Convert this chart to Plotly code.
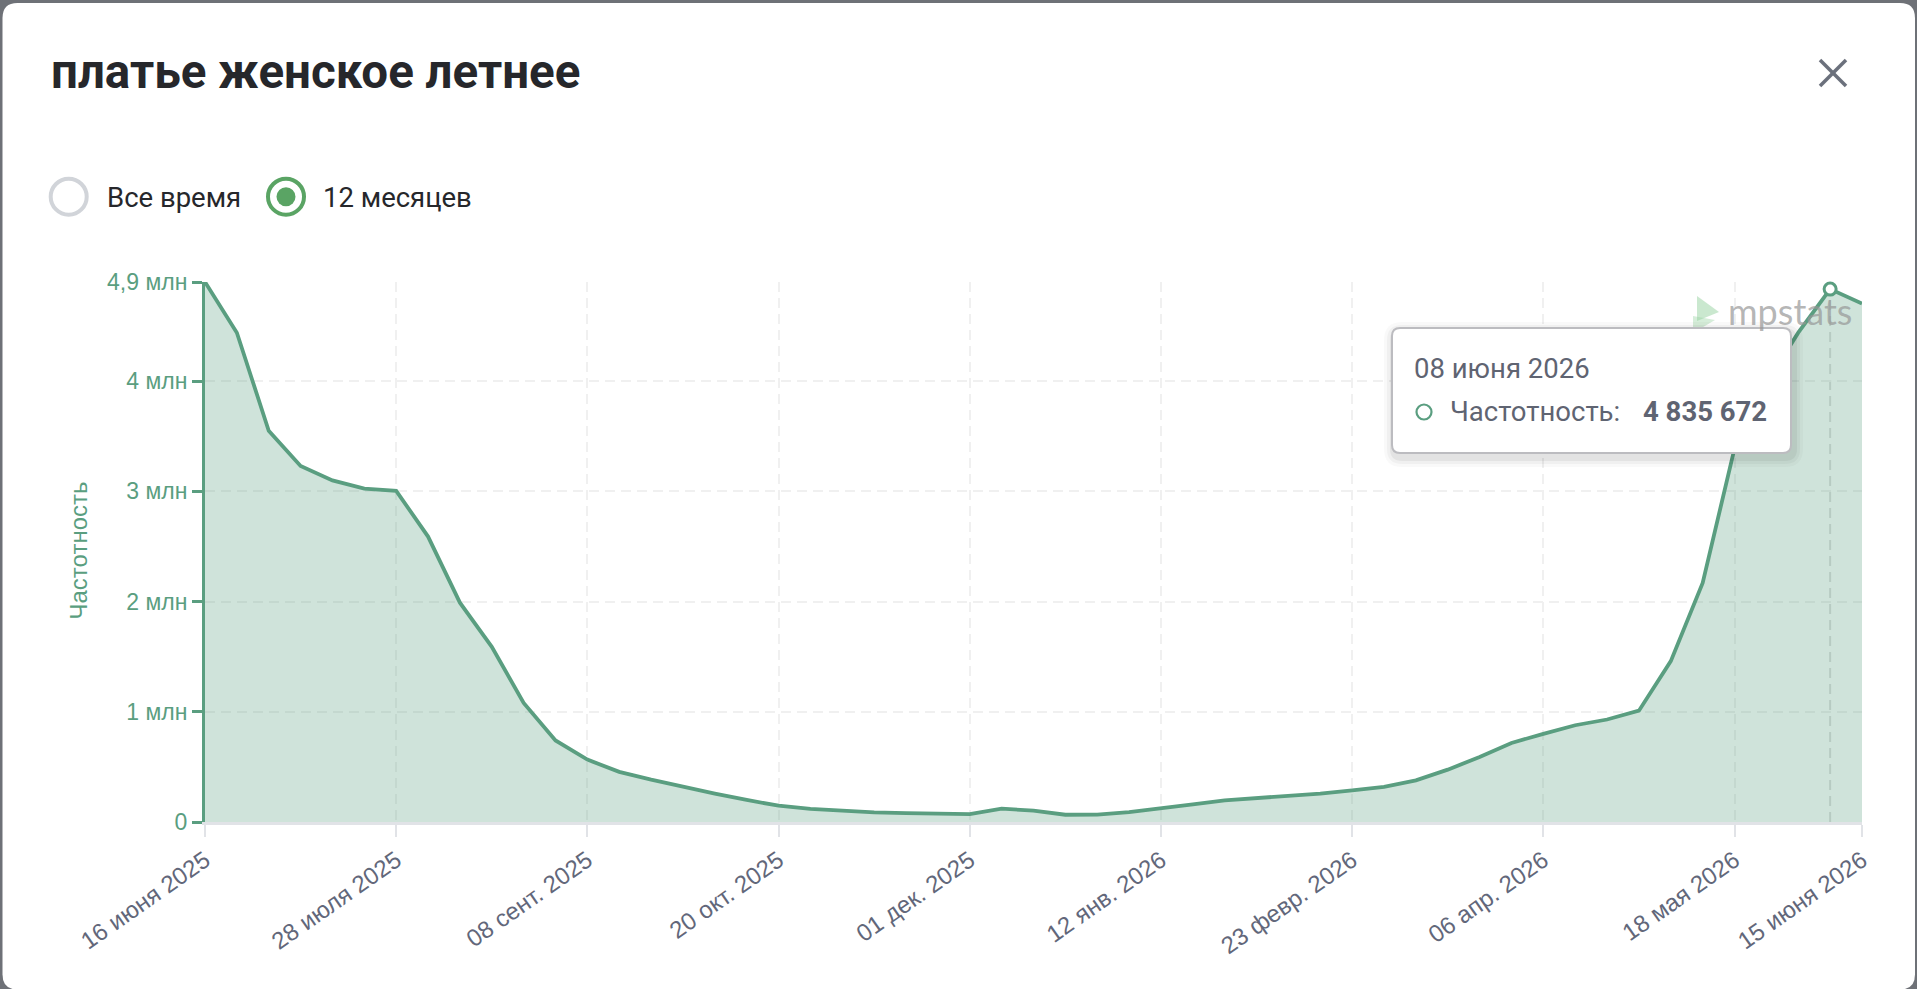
import plotly.graph_objects as go

# ---------------- data ----------------
title_text = "платье женское летнее"
series_name = "Частотность"
dates = [
    "2025-06-16", "2025-06-23", "2025-06-30", "2025-07-07", "2025-07-14", "2025-07-21",
    "2025-07-28", "2025-08-04", "2025-08-11", "2025-08-18", "2025-08-25", "2025-09-01",
    "2025-09-08", "2025-09-15", "2025-09-22", "2025-09-29", "2025-10-06", "2025-10-13",
    "2025-10-20", "2025-10-27", "2025-11-03", "2025-11-10", "2025-11-17", "2025-11-24",
    "2025-12-01", "2025-12-08", "2025-12-15", "2025-12-22", "2025-12-29", "2026-01-05",
    "2026-01-12", "2026-01-19", "2026-01-26", "2026-02-02", "2026-02-09", "2026-02-16",
    "2026-02-23", "2026-03-02", "2026-03-09", "2026-03-16", "2026-03-23", "2026-03-30",
    "2026-04-06", "2026-04-13", "2026-04-20", "2026-04-27", "2026-05-04", "2026-05-11",
    "2026-05-18", "2026-05-25", "2026-06-01", "2026-06-08", "2026-06-15",
]
values = [
    4900000, 4440000, 3550000, 3230000, 3100000, 3025000,
    3005000, 2590000, 1990000, 1590000, 1080000, 740000,
    566000, 455000, 384000, 317000, 257000, 200000,
    148000, 120000, 100000, 87000, 81000, 77000,
    71000, 121000, 103000, 66000, 67000, 90000,
    121000, 160000, 196000, 215000, 242000, 258000,
    287000, 318000, 378000, 475000, 590000, 717000,
    800000, 878000, 930000, 1010000, 1460000, 2170000,
    3390000, 3980000, 4440000, 4835672, 4705000,
]
x_tickvals = ["2025-06-16", "2025-07-28", "2025-09-08", "2025-10-20", "2025-12-01",
              "2026-01-12", "2026-02-23", "2026-04-06", "2026-05-18", "2026-06-15"]
x_ticktext = ["16 июня 2025", "28 июля 2025", "08 сент. 2025", "20 окт. 2025", "01 дек. 2025",
              "12 янв. 2026", "23 февр. 2026", "06 апр. 2026", "18 мая 2026", "15 июня 2026"]
y_tickvals = [0, 1000000, 2000000, 3000000, 4000000, 4900000]
y_ticktext = ["0", "1 млн", "2 млн", "3 млн", "4 млн", "4,9 млн"]
radio_labels = ["Все время", "12 месяцев"]
hover_index = 51
hover_date_label = "08 июня 2026"

# ---------------- styling / geometry ----------------
W, H = 1917, 989
ML, MR, MT, MB = 205, 55, 282, 167
PW, PH = W - ML - MR, H - MT - MB
GREEN = "#5a9e80"
RADIO_GREEN = "#5aa464"
TXT = "#26272b"
GRAY_TXT = "#5f6472"
GRID = "#f0f0f0"


def px(x):
    return (x - ML) / PW


def py(y):
    return (H - MB - y) / PH


def rrect_path(x0, y0, x1, y1, r):
    return (f"M {px(x0 + r)},{py(y0)} L {px(x1 - r)},{py(y0)} "
            f"Q {px(x1)},{py(y0)} {px(x1)},{py(y0 + r)} L {px(x1)},{py(y1 - r)} "
            f"Q {px(x1)},{py(y1)} {px(x1 - r)},{py(y1)} L {px(x0 + r)},{py(y1)} "
            f"Q {px(x0)},{py(y1)} {px(x0)},{py(y1 - r)} L {px(x0)},{py(y0 + r)} "
            f"Q {px(x0)},{py(y0)} {px(x0 + r)},{py(y0)} Z")


def circ(cx, cy, r, **kw):
    return dict(type="circle", xref="paper", yref="paper",
                x0=px(cx - r), x1=px(cx + r), y0=py(cy + r), y1=py(cy - r), **kw)


fig = go.Figure()
fig.add_trace(go.Scatter(
    x=dates, y=values, mode="lines", name=series_name,
    line=dict(color=GREEN, width=3.8),
    fill="tozeroy", fillcolor="rgba(90,158,128,0.29)",
    cliponaxis=False, hoverinfo="skip",
))
fig.add_trace(go.Scatter(
    x=[dates[hover_index]], y=[values[hover_index]], mode="markers",
    marker=dict(size=12, color="white", line=dict(color=GREEN, width=3)),
    cliponaxis=False, hoverinfo="skip",
))

shapes = []
# modal panel
shapes.append(dict(type="path", xref="paper", yref="paper", layer="below",
                   path=rrect_path(2.5, 3, 1915, 989.5, 15),
                   fillcolor="white", line=dict(width=0)))
# crosshair
shapes.append(dict(type="line", xref="x", yref="paper", layer="below",
                   x0=dates[hover_index], x1=dates[hover_index], y0=0, y1=1,
                   line=dict(color="#dedede", width=2, dash="10px,6px")))
# radio buttons
shapes.append(circ(68.7, 196.7, 18, line=dict(color="#d1d4d9", width=4), fillcolor="white"))
shapes.append(circ(286, 196.7, 18, line=dict(color=RADIO_GREEN, width=4), fillcolor="white"))
shapes.append(circ(286, 196.7, 9.5, line=dict(width=0), fillcolor=RADIO_GREEN))
# close X
shapes.append(dict(type="line", xref="paper", yref="paper", x0=px(1820), y0=py(60),
                   x1=px(1846), y1=py(86), line=dict(color="#6b707c", width=3.5)))
shapes.append(dict(type="line", xref="paper", yref="paper", x0=px(1846), y0=py(60),
                   x1=px(1820), y1=py(86), line=dict(color="#6b707c", width=3.5)))
# mpstats logo
shapes.append(dict(type="path", xref="paper", yref="paper", layer="above",
                   path=f"M {px(1697)},{py(296)} L {px(1719)},{py(312)} L {px(1697)},{py(321)} Z",
                   fillcolor="rgba(150,210,160,0.5)", line=dict(width=0)))
shapes.append(dict(type="path", xref="paper", yref="paper", layer="above",
                   path=f"M {px(1693)},{py(316)} L {px(1715)},{py(320)} L {px(1693)},{py(333)} Z",
                   fillcolor="rgba(150,210,160,0.4)", line=dict(width=0)))
# tooltip shadow + box
tx0, ty0, tx1, ty1 = 1392, 328, 1791, 453
for i, a in enumerate([0.025, 0.035, 0.05]):
    g = 10 - i * 3
    shapes.append(dict(type="path", xref="paper", yref="paper", layer="above",
                       path=rrect_path(tx0 - g + 2, ty0 - g + 4, tx1 + g + 2, ty1 + g + 4, 8 + g),
                       fillcolor=f"rgba(0,0,0,{a})", line=dict(width=0)))
shapes.append(dict(type="path", xref="paper", yref="paper", layer="above",
                   path=rrect_path(tx0, ty0, tx1, ty1, 8),
                   fillcolor="white", line=dict(color="#bcbcc0", width=2)))
shapes.append(circ(1424, 412, 7.5, line=dict(color=GREEN, width=2.2), fillcolor="white", layer="above"))

annotations = [
    dict(text=title_text, x=px(49), y=py(72.5), xref="paper", yref="paper",
         xanchor="left", yanchor="middle", showarrow=False,
         font=dict(family="Roboto", size=47.5, color=TXT, weight=700)),
    dict(text=radio_labels[0], x=px(105), y=py(197), xref="paper", yref="paper",
         xanchor="left", yanchor="middle", showarrow=False,
         font=dict(family="Roboto", size=27.5, color=TXT)),
    dict(text=radio_labels[1], x=px(321), y=py(197), xref="paper", yref="paper",
         xanchor="left", yanchor="middle", showarrow=False,
         font=dict(family="Roboto", size=27.5, color=TXT)),
    dict(text=series_name, x=px(77.5), y=py(551), xref="paper", yref="paper",
         xanchor="center", yanchor="middle", textangle=-90, showarrow=False,
         font=dict(family="Liberation Sans", size=24, color=GREEN)),
    dict(text="mpstats", x=px(1726), y=py(311), xref="paper", yref="paper",
         xanchor="left", yanchor="middle", showarrow=False,
         font=dict(family="Lato", size=36, color="rgba(150,150,150,0.7)")),
    dict(text=hover_date_label, x=px(1412), y=py(368), xref="paper", yref="paper",
         xanchor="left", yanchor="middle", showarrow=False,
         font=dict(family="Roboto", size=27.5, color=GRAY_TXT)),
    dict(text=series_name + ":", x=px(1448), y=py(411), xref="paper", yref="paper",
         xanchor="left", yanchor="middle", showarrow=False,
         font=dict(family="Roboto", size=27.5, color=GRAY_TXT)),
    dict(text="<b>" + f"{values[hover_index]:,}".replace(",", " ") + "</b>",
         x=px(1769), y=py(411), xref="paper", yref="paper",
         xanchor="right", yanchor="middle", showarrow=False,
         font=dict(family="Roboto", size=27.5, color=GRAY_TXT)),
]

fig.update_layout(
    width=W, height=H,
    margin=dict(l=ML, r=MR, t=MT, b=MB, pad=0),
    paper_bgcolor="#6e7177", plot_bgcolor="rgba(0,0,0,0)",
    showlegend=False, hovermode=False,
    shapes=shapes, annotations=annotations,
    xaxis=dict(
        type="date", range=[dates[0], dates[-1]],
        tickmode="array", tickvals=x_tickvals, ticktext=x_ticktext,
        tickangle=-35, tickfont=dict(family="Liberation Sans", size=24, color="#62677a"),
        showgrid=True, gridcolor=GRID, gridwidth=2, griddash="10px,6px",
        showline=True, linecolor="#e1e3e7", linewidth=3,
        ticks="outside", ticklen=12, tickwidth=2, tickcolor="#e1e3e7",
        zeroline=False, fixedrange=True,
    ),
    yaxis=dict(
        range=[0, 4900000],
        tickmode="array", tickvals=y_tickvals, ticktext=y_ticktext,
        tickfont=dict(family="Liberation Sans", size=23, color=GREEN),
        showgrid=True, gridcolor=GRID, gridwidth=2, griddash="10px,6px",
        showline=True, linecolor=GREEN, linewidth=3,
        ticks="outside", ticklen=10, tickwidth=2.5, tickcolor=GREEN,
        zeroline=False, fixedrange=True,
    ),
)

fig.write_html("out.html", config={"displayModeBar": False, "responsive": False})
